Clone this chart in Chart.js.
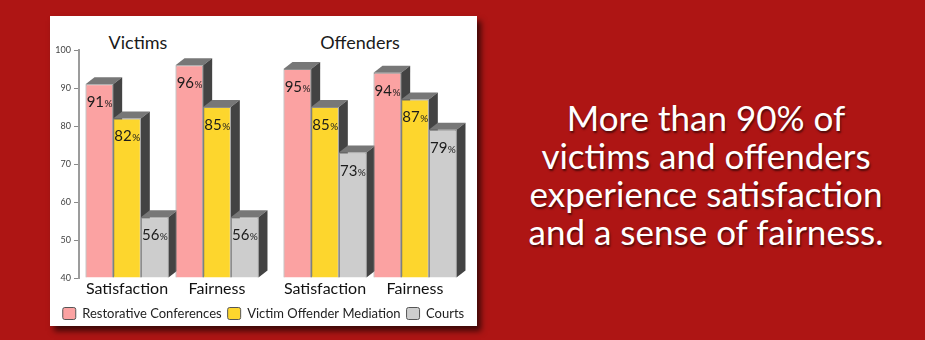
<!DOCTYPE html>
<html>
<head>
<meta charset="utf-8">
<script src="https://cdn.jsdelivr.net/npm/chart.js@4"></script>
<style>
  html, body { margin: 0; padding: 0; }
  body {
    width: 925px; height: 340px; overflow: hidden;
    background: #ae1514; position: relative;
    font-family: Lato, "Noto Sans", sans-serif;
  }
  #card {
    position: absolute; left: 50px; top: 16px; width: 427px; height: 310px;
    background: #fff;
    box-shadow: 4px 5px 6px rgba(0, 0, 0, 0.65);
  }
  #chartBox { position: absolute; left: 0; top: 0; width: 427px; height: 314px; }
  .group-title {
    position: absolute; top: 15px; font-size: 18px; font-weight: 400; color: #1a1a1a;
    transform: translateX(-50%); white-space: nowrap;
  }
  #headline {
    position: absolute; left: 506px; top: 98px; width: 400px;
    text-align: center; color: #fff;
    font-size: 35px; line-height: 38px;
    text-shadow: 1px 2px 2px rgba(0, 0, 0, 0.55);
  }
</style>
</head>
<body>
<div id="card">
  <div class="group-title" style="left:88px">Victims</div>
  <div class="group-title" style="left:310px">Offenders</div>
  <div id="chartBox"><canvas id="chart"></canvas></div>
</div>
<div id="headline">More than 90% of<br>victims and offenders<br>experience satisfaction<br>and a sense of fairness.</div>

<script>
// --------------------
// Data
// --------------------
const categories = ["Satisfaction", "Fairness", "Satisfaction", "Fairness"];
const categoryX = [0, 1, 2.2, 3.2];   // Victims pair, then Offenders pair

const restorative = [91, 96, 95, 94];
const mediation = [82, 85, 85, 87];
const courts = [56, 56, 73, 79];

const seriesNames = ["Restorative Conferences", "Victim Offender Mediation", "Courts"];
const yTicks = [40, 50, 60, 70, 80, 90, 100];

// Colors
const colors = {
  pink: '#fba2a2',
  yellow: '#fdd62d',
  gray: '#cdcdcd',
  top: '#777777',
  side: '#434343',
  edge: '#8d8d8d'
};

const DEPTH_X = 9;
const DEPTH_Y = 7;
const FONT = 'Lato, "Noto Sans", sans-serif';

function points(values) {
  return values.map((v, i) => ({ x: categoryX[i], y: v }));
}

function makeDataset(label, values, color) {
  return {
    label: label,
    data: points(values),
    base: 40,
    backgroundColor: color,
    borderColor: colors.edge,
    borderWidth: 1,
    categoryPercentage: 0.922,
    barPercentage: 1
  };
}

// --------------------
// 3D faces + value labels
// --------------------
const bar3d = {
  id: 'bar3d',
  beforeDatasetsDraw(chart) {
    const ctx = chart.ctx;
    ctx.save();
    chart.data.datasets.forEach((ds, di) => {
      chart.getDatasetMeta(di).data.forEach(bar => {
        const { x, y, base, width } = bar.getProps(['x', 'y', 'base', 'width'], true);
        const l = x - width / 2;
        const r = x + width / 2;

        // top face
        ctx.fillStyle = colors.top;
        ctx.beginPath();
        ctx.moveTo(l, y);
        ctx.lineTo(l + DEPTH_X, y - DEPTH_Y);
        ctx.lineTo(r + DEPTH_X, y - DEPTH_Y);
        ctx.lineTo(r, y);
        ctx.closePath();
        ctx.fill();

        // right side
        ctx.fillStyle = colors.side;
        ctx.beginPath();
        ctx.moveTo(r, y);
        ctx.lineTo(r + DEPTH_X, y - DEPTH_Y);
        ctx.lineTo(r + DEPTH_X, base - DEPTH_Y);
        ctx.lineTo(r, base);
        ctx.closePath();
        ctx.fill();
      });
    });
    ctx.restore();
  },
  afterDatasetsDraw(chart) {
    const ctx = chart.ctx;
    ctx.save();
    ctx.fillStyle = '#1c1c1c';
    ctx.textBaseline = 'alphabetic';
    ctx.textAlign = 'left';
    chart.data.datasets.forEach((ds, di) => {
      chart.getDatasetMeta(di).data.forEach((bar, i) => {
        const { x, y } = bar.getProps(['x', 'y'], true);
        const num = String(ds.data[i].y);
        ctx.font = '15px ' + FONT;
        const w1 = ctx.measureText(num).width;
        ctx.font = '10px ' + FONT;
        const w2 = ctx.measureText('%').width;
        const start = x - (w1 + w2) / 2;
        const baseline = y + 23;
        ctx.font = '15px ' + FONT;
        ctx.fillText(num, start, baseline);
        ctx.font = '10px ' + FONT;
        ctx.fillText('%', start + w1 + 0.5, baseline);
      });
    });
    ctx.restore();
  }
};

// --------------------
// Chart
// --------------------
function initChart() {
  const ctx = document.getElementById('chart').getContext('2d');

  return new Chart(ctx, {
    type: 'bar',
    data: {
      datasets: [
        makeDataset(seriesNames[0], restorative, colors.pink),
        makeDataset(seriesNames[1], mediation, colors.yellow),
        makeDataset(seriesNames[2], courts, colors.gray)
      ]
    },
    plugins: [bar3d],
    options: {
      responsive: false,
      animation: false,
      layout: { padding: { top: 34, right: 0, left: 0, bottom: 0 } },
      plugins: {
        tooltip: { enabled: false },
        legend: {
          position: 'bottom',
          labels: {
            boxWidth: 13,
            boxHeight: 12,
            padding: 6,
            color: '#222',
            font: { size: 13, family: FONT },
            generateLabels(chart) {
              return Chart.defaults.plugins.legend.labels.generateLabels(chart).map(item => {
                item.strokeStyle = '#555';
                item.lineWidth = 1;
                item.borderRadius = 2;
                return item;
              });
            }
          }
        }
      },
      scales: {
        x: {
          type: 'linear',
          offset: false,
          min: -0.5333,
          max: 3.889,
          grid: { display: false, drawTicks: false, offset: false },
          border: { display: false },
          afterBuildTicks: s => { s.ticks = categoryX.map(v => ({ value: v })); },
          afterFit: s => { s.height = 23; },
          ticks: {
            padding: 1,
            color: '#111',
            font: { size: 16, family: FONT },
            callback: (v, i) => categories[i]
          }
        },
        y: {
          min: 40,
          max: 100,
          afterBuildTicks: s => { s.ticks = yTicks.map(v => ({ value: v })); },
          afterFit: s => { s.width = 29; },
          grid: { drawOnChartArea: false, drawTicks: true, tickLength: 5, color: '#8a8a8a' },
          border: { color: '#9c9c9c', width: 2 },
          ticks: {
            padding: 3,
            color: '#444',
            font: { size: 9, family: FONT }
          }
        }
      }
    }
  });
}

document.getElementById('chart').width = 427;
document.getElementById('chart').height = 314;
initChart();
</script>
</body>
</html>
